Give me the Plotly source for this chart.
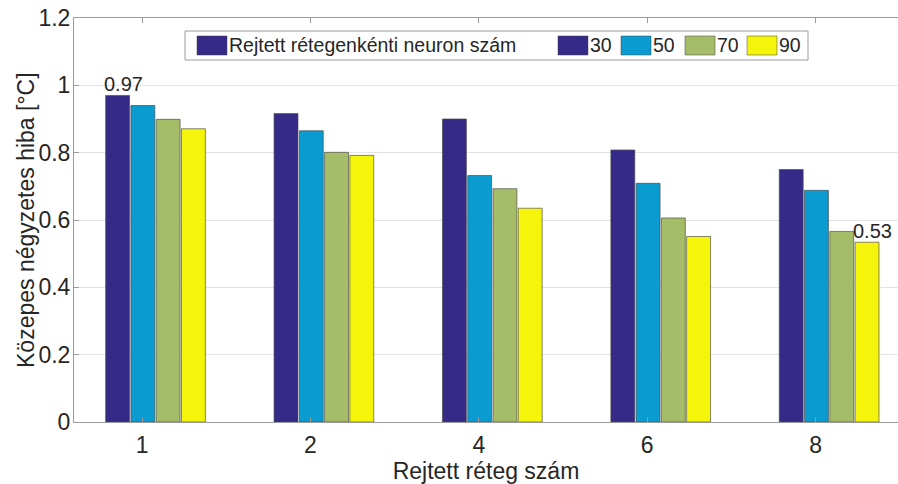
import plotly.graph_objects as go

# Grouped bar chart: mean squared error vs. number of hidden layers
layers = ["1", "2", "4", "6", "8"]
neurons = ["30", "50", "70", "90"]
err_30 = [0.97, 0.916, 0.900, 0.808, 0.750]
err_50 = [0.940, 0.865, 0.732, 0.709, 0.688]
err_70 = [0.899, 0.801, 0.693, 0.606, 0.566]
err_90 = [0.871, 0.792, 0.635, 0.551, 0.534]
series = [err_30, err_50, err_70, err_90]
colors = ["#352A87", "#0A9BD0", "#A5BC69", "#F5F50C"]
legend_title = "Rejtett rétegenkénti neuron szám"
y_title = "Közepes négyzetes hiba [°C]"
x_title = "Rejtett réteg szám"
# bars that carry a value label: (series index, group index)
labelled = [(0, 0), (3, 4)]

y_ticks = [0, 0.2, 0.4, 0.6, 0.8, 1, 1.2]

W, H = 898, 484
L, R, T, B = 74, 0, 18, 62
pw, ph = W - L - R, H - T - B

TXT = "#262626"
FONT = "Liberation Sans"

# group geometry in x-axis units (groups sit at 0..4)
slot = 0.15
bar_w = 0.142
shift = 0.08

xs = list(range(len(layers)))
fig = go.Figure()
for k, (name, vals, col) in enumerate(zip(neurons, series, colors)):
    fig.add_trace(go.Bar(
        x=xs, y=vals, name=name,
        width=bar_w,
        offset=shift - 2 * slot + k * slot + (slot - bar_w) / 2,
        marker=dict(color=col, line=dict(color="rgba(70,70,70,0.65)", width=1)),
        showlegend=False,
        hoverinfo="y",
    ))

annotations = []
for si, gi in labelled:
    annotations.append(dict(
        x=xs[gi] + shift - 2 * slot + si * slot, y=series[si][gi],
        xref="x", yref="y", xanchor="left", yanchor="bottom",
        text=f"{series[si][gi]:.2f}", showarrow=False, yshift=-2, xshift=-3,
        font=dict(family=FONT, size=20, color=TXT),
    ))


def px(x):
    return (x - L) / pw


def py(y):
    return (H - B - y) / ph


# y-axis title, placed next to the tick labels
annotations.append(dict(
    x=px(26), y=0.5, xref="paper", yref="paper",
    xanchor="center", yanchor="middle", textangle=-90,
    text=y_title, showarrow=False,
    font=dict(family=FONT, size=23, color=TXT),
))

shapes = []
# legend box
shapes.append(dict(type="rect", xref="paper", yref="paper",
                   x0=px(185), x1=px(808), y0=py(31), y1=py(60),
                   line=dict(color="#9a9a9a", width=1), fillcolor="white", layer="above"))
entries = [(legend_title, colors[0], 197)] + [
    (n, c, x0) for n, c, x0 in zip(neurons, colors, [558, 621, 685, 747])]
for text, col, x0 in entries:
    shapes.append(dict(type="rect", xref="paper", yref="paper",
                       x0=px(x0), x1=px(x0 + 30), y0=py(36), y1=py(55),
                       line=dict(color="rgba(70,70,70,0.5)", width=1), fillcolor=col, layer="above"))
    annotations.append(dict(
        x=px(x0 + 30), y=py(45.5), xref="paper", yref="paper",
        xanchor="left", yanchor="middle", text=text, showarrow=False,
        font=dict(family=FONT, size=19.5, color=TXT),
    ))

fig.update_layout(
    width=W, height=H,
    margin=dict(l=L, r=R, t=T, b=B),
    paper_bgcolor="white", plot_bgcolor="white",
    barmode="overlay",
    font=dict(family=FONT, color=TXT),
    showlegend=False,
    annotations=annotations,
    shapes=shapes,
    xaxis=dict(
        range=[-0.404, 4.489],
        tickmode="array", tickvals=xs, ticktext=layers,
        ticks="inside", ticklen=5, tickcolor="#9a9a9a",
        showline=True, linecolor="#9a9a9a", linewidth=1, mirror="ticks",
        showgrid=False, zeroline=False,
        tickfont=dict(family=FONT, size=23, color=TXT),
        ticklabelstandoff=2,
        title=dict(text=x_title, font=dict(family=FONT, size=23, color=TXT), standoff=4),
        automargin=False,
    ),
    yaxis=dict(
        range=[0, 1.2],
        tickmode="array", tickvals=y_ticks, ticktext=[f"{v:g}" for v in y_ticks],
        ticks="inside", ticklen=5, tickcolor="#9a9a9a",
        showline=True, linecolor="#9a9a9a", linewidth=1,
        showgrid=True, gridcolor="#e3e3e3", gridwidth=1, zeroline=False,
        tickfont=dict(family=FONT, size=23, color=TXT),
        ticklabelstandoff=-2,
        automargin=False,
    ),
)

fig.write_html("out.html")
